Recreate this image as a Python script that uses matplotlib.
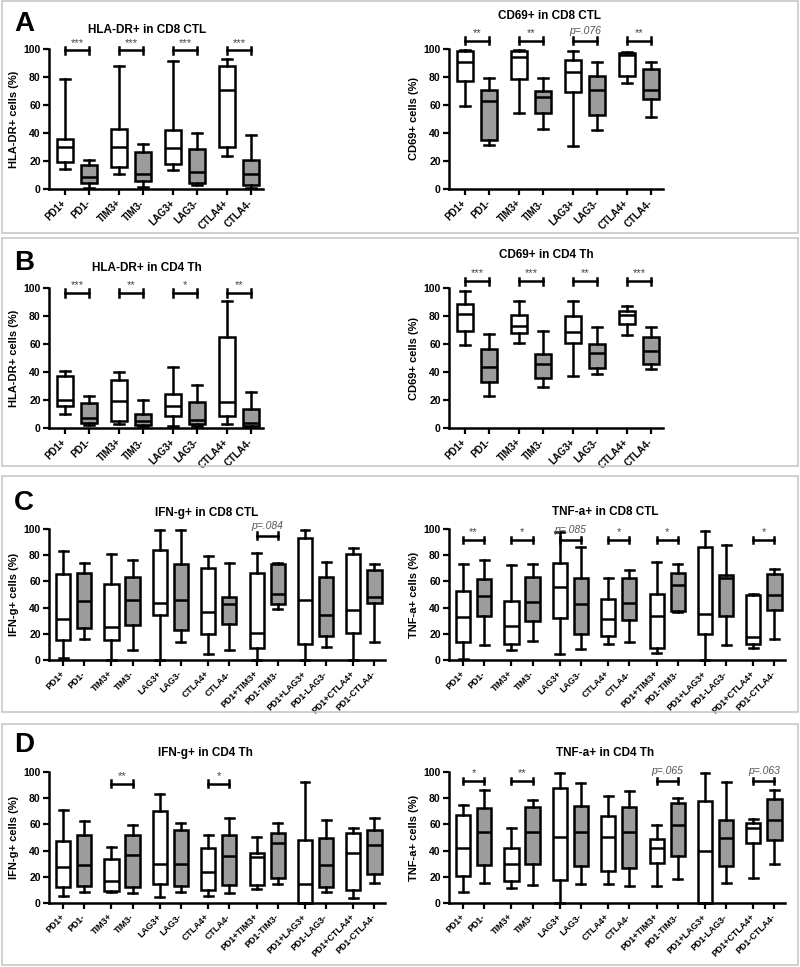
import matplotlib
matplotlib.use("Agg")
import matplotlib.pyplot as plt
from matplotlib.patches import Rectangle

plt.rcParams['font.family'] = ['Liberation Sans', 'DejaVu Sans']
plt.rcParams['font.weight'] = 'bold'

cats4 = ["PD1+", "PD1-", "TIM3+", "TIM3-", "LAG3+", "LAG3-", "CTLA4+", "CTLA4-"]
cats7 = cats4 + ["PD1+TIM3+", "PD1-TIM3-", "PD1+LAG3+", "PD1-LAG3-",
                 "PD1+CTLA4+", "PD1-CTLA4-"]

# each row: whisker low, q1, median, q3, whisker high
hla_cd8 = [[14, 19.4, 30, 35.4, 78.5], [1, 4.5, 8.6, 17, 21],
           [10.5, 16, 30, 43, 88], [1.5, 5.5, 10.5, 26.5, 32.5],
           [13.4, 17.7, 29, 42, 91.6], [2.6, 4.3, 12, 28.5, 40],
           [23.7, 30, 71, 88, 93], [1, 2.6, 10.5, 20.6, 38.8]]
cd69_cd8 = [[59.3, 77.5, 91, 98.3, 99], [31.3, 35, 63, 70.8, 79],
            [54, 78.7, 94, 98.3, 99], [43, 54, 65.5, 70, 79],
            [31, 69, 83.7, 92, 98.3], [42, 52.9, 70.8, 80.6, 90.4],
            [75.6, 81, 95.5, 97, 97.6], [51.2, 64.6, 70.8, 85.6, 90.4]]
hla_cd4 = [[10.3, 15.8, 20.3, 37.3, 40.7], [2.4, 3.6, 7.2, 18, 23],
           [2.6, 5, 19, 34.4, 39.7], [1.2, 2.4, 5, 10, 20.3],
           [1.2, 8.6, 16, 24.6, 43.3], [1.7, 2.6, 5.5, 18.4, 30.9],
           [2.6, 8.4, 18.4, 64.8, 91], [0.7, 1.7, 3.6, 13.9, 25.4]]
cd69_cd4 = [[59.6, 69.4, 81.3, 88.3, 98], [23.2, 33, 43.5, 56.7, 67.5],
            [60.8, 68, 73, 81, 90.4], [29, 35.6, 45.7, 53, 69],
            [37.3, 60.5, 68.4, 80, 91], [38.3, 42.6, 53.3, 59.8, 72.5],
            [66.3, 74, 80.4, 83.7, 86.8], [41.9, 45.7, 55.3, 65.3, 72.5]]
ifn_cd8 = [[1.8, 15, 31, 65.4, 83.5], [16, 24.2, 45, 66.7, 74.3],
           [0, 15, 25.5, 58, 81], [7.6, 26.7, 45.8, 63.6, 76.6],
           [0, 34.4, 43.5, 84, 99], [14, 22.9, 45.8, 73.3, 99],
           [4.3, 20, 37, 70, 79.6], [7.4, 27.2, 43, 48.3, 73.8],
           [0, 9.4, 20.6, 66.7, 81.4], [39.2, 42.5, 50.4, 73, 73.8],
           [0, 12.2, 45.5, 93.4, 99], [10, 18.3, 34.4, 63.4, 75],
           [0, 20.4, 38.4, 80.7, 85.2], [14, 43.5, 48.3, 68.7, 73.5]]
tnf_cd8 = [[0.8, 14, 32.8, 52.7, 73.5], [11.5, 33.3, 48.9, 61.6, 76],
           [7.9, 12, 25.7, 44.8, 72.8], [14.8, 29.8, 44, 63.4, 73],
           [4.3, 31.8, 56, 73.8, 98], [8.1, 19.8, 42.5, 62.8, 86],
           [12.2, 18.6, 31, 46.3, 62.8], [14, 30.5, 43.8, 62.8, 68.7],
           [5, 9.4, 33.3, 50.1, 74.8], [37, 37.4, 57.5, 66.7, 73],
           [0, 19.6, 35.4, 86.5, 98.7], [11.5, 33.6, 62.3, 64.6, 87.5],
           [9.4, 12, 17.6, 49.9, 50.4], [16, 38.2, 49.9, 65.4, 69.2]]
ifn_cd4 = [[5.3, 12.2, 27.5, 47, 70.7], [8.1, 12.7, 29.3, 52.2, 62.3],
           [8.1, 9.4, 16.8, 33.8, 42.7], [7.6, 12.2, 36.4, 52.2, 59.3],
           [4.6, 14.2, 29.5, 70.2, 83], [8.1, 13.2, 29.5, 56, 61.3],
           [5.3, 10.2, 23.4, 42.2, 52.2], [7.4, 13.7, 35.6, 52.2, 65.1],
           [10.7, 14, 35.1, 38.4, 50.4], [14.2, 18.8, 45.8, 53.4, 61],
           [0, 0, 14.8, 48.3, 92.4], [8.1, 12.2, 28.8, 49.9, 63.1],
           [3.6, 10.2, 38.2, 53.4, 57.5], [15.3, 21.9, 44, 56, 64.9]]
tnf_cd4 = [[8.4, 20.4, 42.2, 67, 74.6], [15.3, 29, 54.5, 72.5, 86],
           [11.5, 16.8, 29.5, 41.7, 57.3], [13.5, 29.5, 54, 73.3, 78.6],
           [0, 17.8, 50.4, 87.8, 99.5], [14.5, 28, 54.5, 74, 91.6],
           [14.5, 24.4, 50.4, 66.7, 81.7], [13, 27, 54.5, 73.3, 85.2],
           [12.7, 30.5, 41.7, 49.1, 59.5], [18.6, 36.1, 59.8, 76.1, 80.2],
           [0, 0, 39.7, 77.9, 99.5], [15.3, 28, 49.4, 63.1, 92.6],
           [18.8, 45.8, 57.5, 61.3, 63.9], [30, 48.3, 63.1, 79.1, 86]]

# significance: (pair index, label)
sig_hla_cd8 = [(0, "***"), (1, "***"), (2, "***"), (3, "***")]
sig_cd69_cd8 = [(0, "**"), (1, "**"), (2, "p=.076"), (3, "**")]
sig_hla_cd4 = [(0, "***"), (1, "**"), (2, "*"), (3, "**")]
sig_cd69_cd4 = [(0, "***"), (1, "***"), (2, "**"), (3, "***")]
sig_ifn_cd8 = [(4, "p=.084")]
sig_tnf_cd8 = [(0, "**"), (1, "*"), (2, "p=.085"), (3, "*"), (4, "*"), (6, "*")]
sig_ifn_cd4 = [(1, "**"), (3, "*")]
sig_tnf_cd4 = [(0, "*"), (1, "**"), (4, "p=.065"), (6, "p=.063")]

W, H = 800, 967
fig = plt.figure(figsize=(W / 100, H / 100), dpi=100)

# grey panel frames
for y0, y1 in [(1, 233), (238, 466), (476, 712), (724, 965)]:
    fig.add_artist(Rectangle((2 / W, 1 - y1 / H), 796 / W, (y1 - y0) / H,
                             transform=fig.transFigure, fill=False,
                             ec='#c8c8c8', lw=1.2))


def panel(x0, x1, ytop, ybot, stats, cats, step, sig, bar_y, title, tx, ty, ylabel):
    ax = fig.add_axes([x0 / W, 1 - ybot / H, (x1 - x0) / W, (ybot - ytop) / H])
    pos = []
    for k in range(len(cats) // 2):
        pos += [k * step, k * step + 1]
    st = [dict(whislo=s[0], q1=s[1], med=s[2], q3=s[3], whishi=s[4], fliers=[])
          for s in stats]
    lw = 1.8
    art = ax.bxp(st, positions=pos, widths=0.67, capwidths=0.42, showfliers=False,
                 patch_artist=True,
                 boxprops=dict(lw=lw, ec='k'),
                 medianprops=dict(lw=lw, color='k'),
                 whiskerprops=dict(lw=lw, color='k'),
                 capprops=dict(lw=lw, color='k'))
    for i, b in enumerate(art['boxes']):
        b.set_facecolor('white' if i % 2 == 0 else '#9c9c9c')
    for key in art:
        for a in art[key]:
            a.set_clip_on(False)
    for k, lab in sig:
        xa, xb = k * step, k * step + 1
        h = 2.6
        ax.plot([xa, xb], [bar_y, bar_y], color='k', lw=lw, clip_on=False)
        ax.plot([xa, xa], [bar_y - h, bar_y + h], color='k', lw=lw, clip_on=False)
        ax.plot([xb, xb], [bar_y - h, bar_y + h], color='k', lw=lw, clip_on=False)
        if lab.startswith("p"):
            ax.text((xa + xb) / 2, bar_y + 3.5, lab, ha='center', va='bottom',
                    fontsize=7.5, style='italic', weight='normal', color='#555555')
        else:
            ax.text((xa + xb) / 2, bar_y + 2, lab, ha='center', va='bottom',
                    fontsize=8, weight='normal', color='#444444')
    ax.set_xlim(-0.67, pos[-1] + 0.5)
    ax.set_ylim(0, 100)
    ax.set_yticks([0, 20, 40, 60, 80, 100])
    ax.set_xticks(pos)
    fs = 7 if len(cats) == 8 else 6.4
    ax.set_xticklabels(cats, rotation=45, ha='right', va='center',
                       rotation_mode='anchor', fontsize=fs, weight='bold')
    for t in ax.get_yticklabels():
        t.set_fontsize(7.5)
        t.set_weight('bold')
    ax.tick_params(axis='both', length=4, width=1.6, pad=2)
    ax.tick_params(axis='x', pad=5)
    for s in ['top', 'right']:
        ax.spines[s].set_visible(False)
    for s in ['left', 'bottom']:
        ax.spines[s].set_linewidth(1.8)
    ax.set_ylabel(ylabel, fontsize=8, weight='bold', labelpad=3)
    fig.text(tx / W, 1 - ty / H, title, ha='center', va='center',
             fontsize=8.5, weight='bold')
    return ax


panel(49, 263, 49, 189, hla_cd8, cats4, 2.25, sig_hla_cd8, 99,
      "HLA-DR+ in CD8 CTL", 147, 30, "HLA-DR+ cells (%)")
panel(449, 663, 49, 189, cd69_cd8, cats4, 2.25, sig_cd69_cd8, 106,
      "CD69+ in CD8 CTL", 550, 16, "CD69+ cells (%)")
panel(49, 263, 288, 428, hla_cd4, cats4, 2.25, sig_hla_cd4, 96.4,
      "HLA-DR+ in CD4 Th", 147, 268, "HLA-DR+ cells (%)")
panel(449, 663, 288, 428, cd69_cd4, cats4, 2.25, sig_cd69_cd4, 104.8,
      "CD69+ in CD4 Th", 546, 255, "CD69+ cells (%)")
panel(49, 385, 529, 660, ifn_cd8, cats7, 2.3, sig_ifn_cd8, 95,
      "IFN-g+ in CD8 CTL", 207, 513, "IFN-g+ cells (%)")
panel(449, 785, 529, 660, tnf_cd8, cats7, 2.3, sig_tnf_cd8, 91.6,
      "TNF-a+ in CD8 CTL", 605, 512, "TNF-a+ cells (%)")
panel(49, 385, 772, 903, ifn_cd4, cats7, 2.3, sig_ifn_cd4, 91,
      "IFN-g+ in CD4 Th", 205, 753, "IFN-g+ cells (%)")
panel(449, 785, 772, 903, tnf_cd4, cats7, 2.3, sig_tnf_cd4, 93.1,
      "TNF-a+ in CD4 Th", 605, 753, "TNF-a+ cells (%)")

for letter, y in [("A", 24), ("B", 263), ("C", 503), ("D", 745)]:
    fig.text(24 / W, 1 - y / H, letter, ha='center', va='center',
             fontsize=20, weight='bold')

fig.savefig("out.png", dpi=100)
